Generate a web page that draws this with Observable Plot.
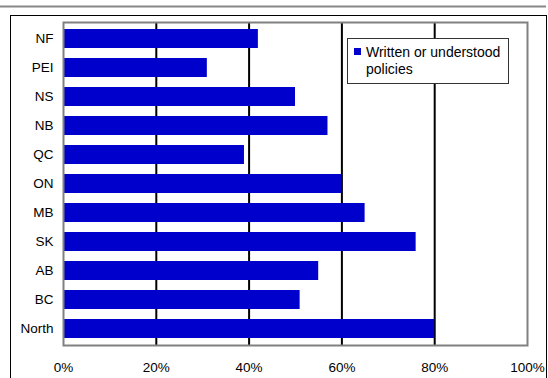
<!DOCTYPE html>
<html>
<head>
<meta charset="utf-8">
<script src="https://cdn.jsdelivr.net/npm/d3@7"></script>
<script src="https://cdn.jsdelivr.net/npm/@observablehq/plot@0.6"></script>
<style>
  html, body { margin: 0; padding: 0; background: white; }
  #chart svg { display: block; }
</style>
</head>
<body>
<div id="chart"></div>
<script>
const categories = ["NF", "PEI", "NS", "NB", "QC", "ON", "MB", "SK", "AB", "BC", "North"];
const values = [42, 31, 50, 57, 39, 60, 65, 76, 55, 51, 80];
const xTicks = [0, 20, 40, 60, 80, 100];
const gridValues = [20, 40, 60, 80];
const seriesName = ["Written or understood", "policies"];

const data = categories.map((c, i) => ({category: c, value: values[i]}));

const W = 548, H = 378;
const FONT = "Arial, 'Liberation Sans', sans-serif";
const chart = Plot.plot({
  width: W,
  height: H,
  marginLeft: 63,
  marginRight: 21,
  marginTop: 22,
  marginBottom: 33,
  style: {fontFamily: FONT, fontSize: "13.5px", color: "black", background: "white", overflow: "visible"},
  x: {domain: [0, 100], ticks: xTicks, tickFormat: d => d + "%", tickSize: 0, tickPadding: 17, label: null},
  y: {domain: categories, paddingInner: 0.35, paddingOuter: 0.175, tickSize: 0, tickPadding: 10, label: null},
  marks: [
    Plot.ruleX(gridValues, {stroke: "black", strokeWidth: 2}),
    Plot.barX(data, {x: "value", y: "category", fill: "#0000CC"}),
    Plot.frame({stroke: "#808080", strokeWidth: 2})
  ]
});

const svg = d3.select(chart);
// top gray rule
svg.append("line").attr("x1", 0).attr("x2", 546).attr("y1", 6.5).attr("y2", 6.5)
  .attr("stroke", "#888").attr("stroke-width", 2);
// outer chart frame
svg.append("rect").attr("x", 10.5).attr("y", 15.5).attr("width", 536).attr("height", 400)
  .attr("fill", "none").attr("stroke", "black").attr("stroke-width", 1);
// legend
const lg = svg.append("g").attr("font-family", FONT).attr("font-size", 14).attr("text-anchor", "start");
lg.append("rect").attr("x", 347.5).attr("y", 38.5).attr("width", 161).attr("height", 45)
  .attr("fill", "white").attr("stroke", "#333").attr("stroke-width", 1);
lg.append("rect").attr("x", 354).attr("y", 48).attr("width", 7).attr("height", 7).attr("fill", "#0000CC");
lg.append("text").attr("x", 366).attr("y", 57).attr("fill", "black").attr("text-anchor", "start").text(seriesName[0]);
lg.append("text").attr("x", 366).attr("y", 73.5).attr("fill", "black").attr("text-anchor", "start").text(seriesName[1]);

document.getElementById("chart").appendChild(chart);
</script>
</body>
</html>
